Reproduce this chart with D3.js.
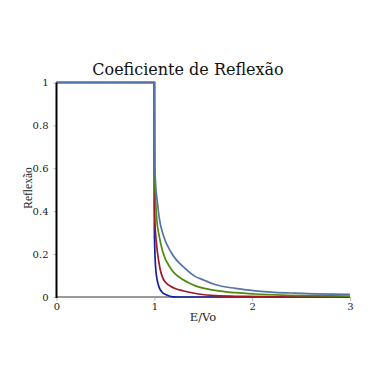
<!DOCTYPE html>
<html>
<head>
<meta charset="utf-8">
<script src="https://cdn.jsdelivr.net/npm/d3@7"></script>
<style>
  body { margin: 0; background: #fff; }
  svg { display: block; }
</style>
</head>
<body>
<svg id="chart" width="382" height="382"></svg>
<script>
const xTicks = [0, 1, 2, 3]
const xTickLabels = ['0', '1', '2', '3']
const yTicks = [0, 0.2, 0.4, 0.6, 0.8, 1]
const yTickLabels = ['0', '0.2', '0.4', '0.6', '0.8', '1']

// E/Vo values, one list per curve
const steelE = [0, 1, 1.002, 1.005, 1.014, 1.031, 1.051, 1.092, 1.168, 1.314, 1.42, 1.5, 1.62, 1.83, 2.03, 2.23, 2.44, 2.64, 3]
const steelR = [1, 1, 0.75, 0.62, 0.52, 0.443, 0.366, 0.288, 0.211, 0.133, 0.095, 0.08, 0.058, 0.040, 0.029, 0.022, 0.018, 0.015, 0.012]

const greenE = [0, 1, 1.001, 1.014, 1.024, 1.048, 1.086, 1.168, 1.30, 1.42, 1.62, 1.83, 2.03, 2.3, 2.6, 3]
const greenR = [1, 1, 0.6, 0.443, 0.366, 0.288, 0.211, 0.133, 0.079, 0.052, 0.031, 0.020, 0.014, 0.009, 0.006, 0.004]

const redE = [0, 1, 1.001, 1.004, 1.014, 1.031, 1.058, 1.109, 1.2, 1.3, 1.45, 1.62, 1.9, 2.3, 3]
const redR = [1, 1, 0.45, 0.366, 0.288, 0.211, 0.133, 0.071, 0.042, 0.028, 0.014, 0.006, 0.003, 0.001, 0]

const blueE = [0, 1, 1.0005, 1.014, 1.041, 1.075, 1.127, 1.19, 1.3, 3]
const blueR = [1, 1, 0.3, 0.133, 0.056, 0.025, 0.009, 0.001, 0, 0]

const seriesNames = ['azul', 'vermelho', 'verde', 'aco']
const seriesColours = ['#13209a', '#a3162c', '#4f8a0c', '#5674a8']

const series = [
  blueE.map((e, i) => [e, blueR[i]]),
  redE.map((e, i) => [e, redR[i]]),
  greenE.map((e, i) => [e, greenR[i]]),
  steelE.map((e, i) => [e, steelR[i]])
]

const svg = d3.select('#chart')
const x = d3.scaleLinear().domain([0, 3]).range([56.5, 350])
const y = d3.scaleLinear().domain([0, 1]).range([297, 82.5])

const serif = 'DejaVu Serif, serif'

/* Title */
svg.append('text')
    .attr('x', 188)
    .attr('y', 75)
    .attr('text-anchor', 'middle')
    .attr('font-family', serif)
    .attr('font-size', 16)
    .attr('fill', '#111')
    .text('Coeficiente de Reflexão')

/* Axes (ticks + labels only, axis lines drawn by hand) */
const xAxis = svg.append('g')
    .attr('transform', `translate(0,${y(0)})`)
    .call(d3.axisBottom(x).tickValues(xTicks).tickSize(4).tickPadding(2)
      .tickFormat((d, i) => xTickLabels[i]))
xAxis.select('.domain').remove()
xAxis.selectAll('line').attr('stroke', '#bbb')
xAxis.selectAll('text')
    .attr('font-family', serif)
    .attr('font-size', 10)
    .attr('fill', '#222')

const yAxis = svg.append('g')
    .attr('transform', `translate(${x(0)},0)`)
    .call(d3.axisLeft(y).tickValues(yTicks).tickSize(3).tickPadding(5)
      .tickFormat((d, i) => yTickLabels[i]))
yAxis.select('.domain').remove()
yAxis.selectAll('line').attr('stroke', '#bbb')
yAxis.selectAll('text')
    .attr('font-family', serif)
    .attr('font-size', 10)
    .attr('fill', '#222')

/* Axis titles */
svg.append('text')
    .attr('x', 203)
    .attr('y', 321)
    .attr('text-anchor', 'middle')
    .attr('font-family', serif)
    .attr('font-size', 11.5)
    .attr('fill', '#222')
    .text('E/Vo')

svg.append('text')
    .attr('transform', `translate(32,188) rotate(-90)`)
    .attr('text-anchor', 'middle')
    .attr('font-family', 'Liberation Serif, serif')
    .attr('font-size', 11.5)
    .attr('fill', '#222')
    .text('Reflexão')

/* Axis lines */
svg.append('line')
    .attr('x1', x(0))
    .attr('x2', x(3))
    .attr('y1', y(0))
    .attr('y2', y(0))
    .attr('stroke', '#999')
    .attr('stroke-width', 2)

/* Curves */
const line = d3.line()
    .x(d => x(d[0]))
    .y(d => y(d[1]))
    .curve(d3.curveMonotoneX)

svg.append('g')
  .selectAll('path')
  .data(series)
  .join('path')
    .attr('class', (d, i) => seriesNames[i])
    .attr('d', line)
    .attr('fill', 'none')
    .attr('stroke', (d, i) => seriesColours[i])
    .attr('stroke-width', 1.7)

svg.append('line')
    .attr('x1', x(0))
    .attr('x2', x(0))
    .attr('y1', y(0) + 1)
    .attr('y2', y(1))
    .attr('stroke', '#000')
    .attr('stroke-width', 2)
</script>
</body>
</html>
